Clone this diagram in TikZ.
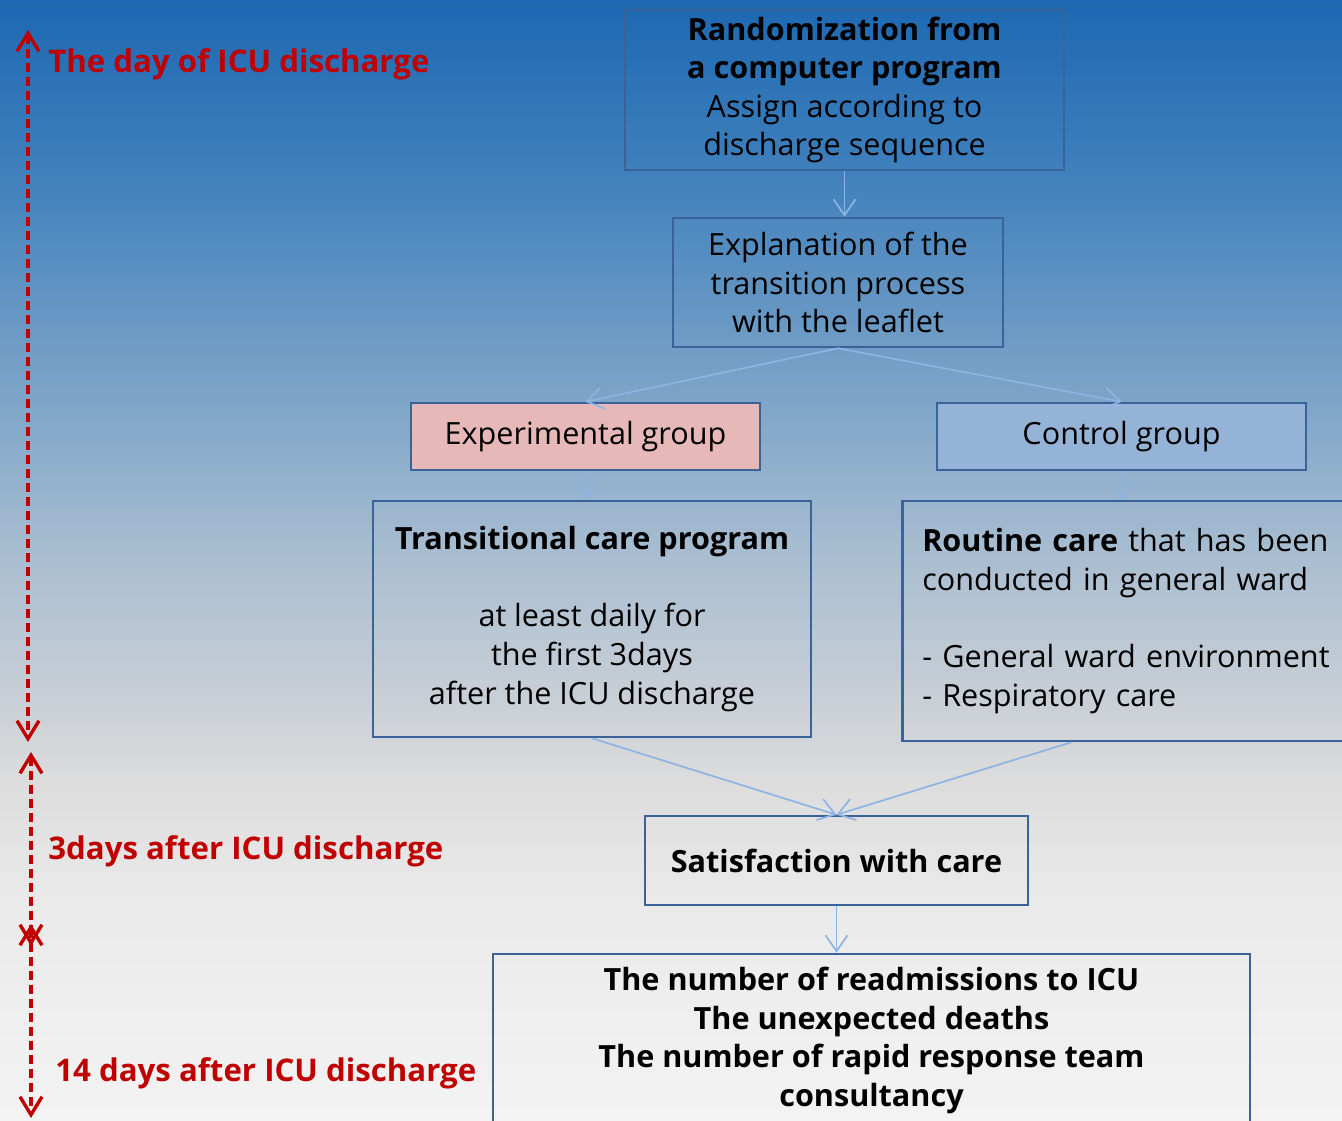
\documentclass[tikz,border=0pt]{standalone}
\usepackage{fontspec}
\setmainfont{Open Sans}
\usetikzlibrary{arrows.meta}

\definecolor{boxline}{HTML}{3A6399}
\definecolor{flowline}{HTML}{8DB4E2}
\definecolor{timered}{HTML}{C00000}
\definecolor{expfill}{HTML}{E6B9B8}
\definecolor{ctrlfill}{HTML}{95B3D7}
\definecolor{bgA}{HTML}{F3F3F3}
\definecolor{bgB}{HTML}{EAEAEA}
\definecolor{bgC}{HTML}{DCDCDC}
\definecolor{bgD}{HTML}{C9CFD6}
\definecolor{bgE}{HTML}{AABED1}
\definecolor{bgF}{HTML}{7EA5C8}
\definecolor{bgG}{HTML}{3F80BC}
\definecolor{bgH}{HTML}{1C68B2}

% the path box takes the part 25bp--75bp of the shading
\pgfdeclareverticalshading{slidebg}{100bp}{color(0bp)=(bgA); color(25bp)=(bgA);
  color(34.8bp)=(bgB); color(40.2bp)=(bgC); color(43.75bp)=(bgD); color(50bp)=(bgE);
  color(57.15bp)=(bgF); color(67.4bp)=(bgG); color(75bp)=(bgH); color(100bp)=(bgH)}

\newcommand{\boxfont}{\fontsize{15.3}{19.3}\selectfont}
\newcommand{\timefont}{\bfseries\fontsize{15.6}{19}\selectfont}

\tikzset{
  stepbox/.style={draw=boxline, line width=1.25pt, align=center, inner sep=0pt, font=\boxfont},
  flow/.style={draw=flowline, line width=0.85pt, -{Straight Barb[length=8pt,width=11pt]}},
  timeline/.style={draw=timered, line width=1.7pt, dash pattern=on 4.5pt off 2.5pt,
    {Straight Barb[length=9pt,width=11pt]}-{Straight Barb[length=9pt,width=11pt]}},
  timelabel/.style={anchor=base west, inner sep=0pt, text=timered, font=\timefont},
}

\begin{document}
\begin{tikzpicture}[x=0.5pt, y=-0.5pt]
  % background
  \useasboundingbox (0,0) rectangle (1342,1120);
  \shade[shading=slidebg] (0,0) rectangle (1342,1120);
  \clip (0,0) rectangle (1342,1120);

  % boxes
  \node[stepbox, minimum width=219.5pt, minimum height=80pt] (random) at (844.5,90)
    {\textbf{Randomization from}\\\textbf{a computer program}\\Assign according to\\discharge sequence};
  \node[stepbox, minimum width=165pt, minimum height=64.5pt] (explain) at (838,282.5)
    {Explanation of the\\transition process\\with the leaflet};
  \node[stepbox, fill=expfill, minimum width=174.5pt, minimum height=33.5pt] (exp) at (585.5,436.5)
    {Experimental group};
  \node[stepbox, fill=ctrlfill, minimum width=184.5pt, minimum height=33.5pt] (ctrl) at (1121.5,436.5)
    {Control group};
  \node[stepbox, minimum width=219pt, minimum height=118pt] (trans) at (592,619)
    {\textbf{Transitional care program}\\[19.3pt]at least daily for\\the first 3days\\after the ICU discharge};
  \node[stepbox, align=left, anchor=west, text width=215pt, inner xsep=10pt,
    minimum height=120pt] (routine) at (901,621)
    {\textbf{Routine care} that has been\\conducted in general ward\\[19.3pt]- General ward environment\\- Respiratory care};
  \node[stepbox, minimum width=191.5pt, minimum height=44.5pt] (satis) at (836.5,860.5)
    {\textbf{Satisfaction with care}};
  \node[stepbox, minimum width=378.5pt, minimum height=86.5pt] (outcome) at (871.5,1040.5)
    {\textbf{The number of readmissions to ICU}\\\textbf{The unexpected deaths}\\
     \textbf{The number of rapid response team}\\\textbf{consultancy}};

  % connectors
  \draw[flow] (random.south) -- (random.south |- explain.north);
  \draw[flow] (explain.south) -- (exp.north);
  \draw[flow] (explain.south) -- (ctrl.north);
  \draw[flow] (exp.south) -- (exp.south |- trans.north);
  \draw[flow] (ctrl.south) -- (ctrl.south |- routine.north);
  \draw[flow] (trans.south) -- (satis.north);
  \draw[flow] ([xshift=-33pt]routine.south) -- (satis.north);
  \draw[flow] (satis.south) -- (satis.south |- outcome.north);

  % time line
  \coordinate (t0) at (28,30);
  \coordinate (t1) at (28,742);
  \coordinate (t2) at (31,752);
  \coordinate (t3) at (31,946);
  \coordinate (t4) at (31,924);
  \coordinate (t5) at (31,1118);
  \foreach \a/\b in {t0/t1, t2/t3, t4/t5}
    \draw[timeline] (\a) -- (\b);

  \node[timelabel] (day0) at (48,72) {The day of ICU discharge};
  \node[timelabel] (day3) at (48,859) {3days after ICU discharge};
  \node[timelabel] (day14) at (55,1081) {14 days after ICU discharge};
\end{tikzpicture}
\end{document}
